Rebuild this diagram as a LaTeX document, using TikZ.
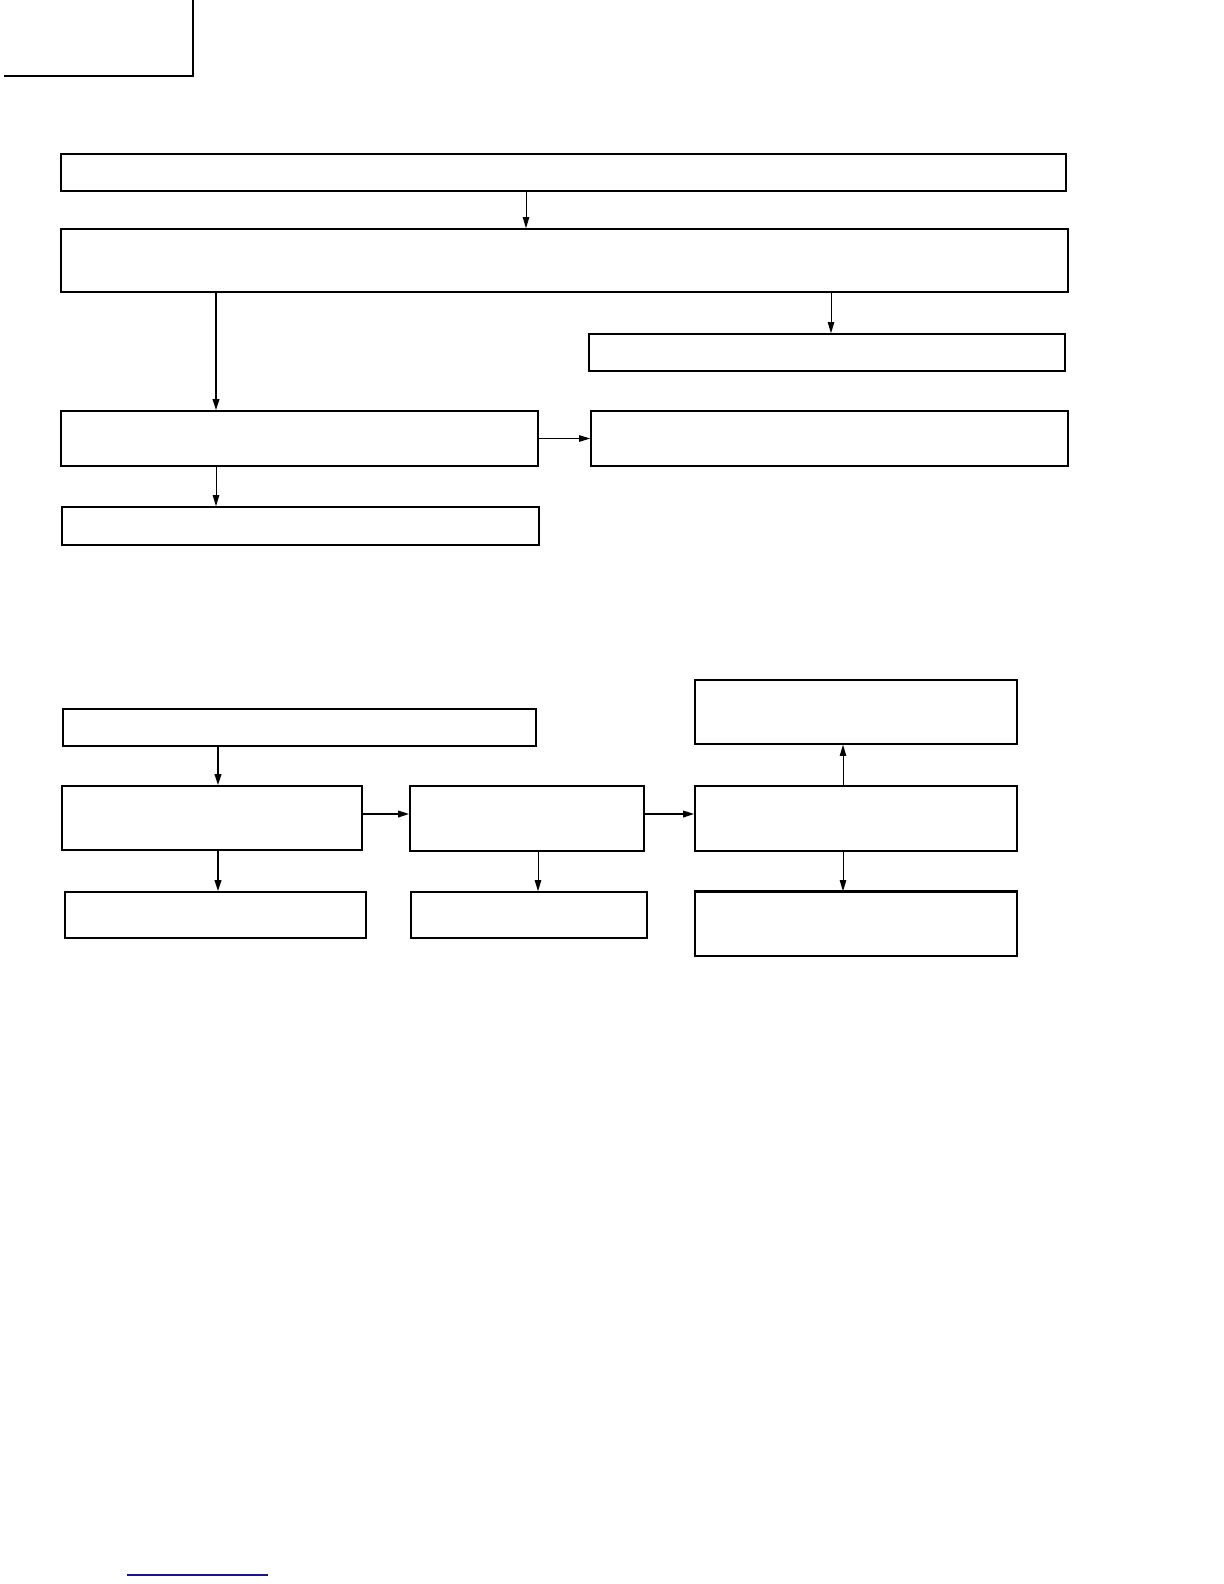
\documentclass[tikz,border=0pt]{standalone}
\usetikzlibrary{fit,arrows.meta}
\tikzset{
  box/.style={draw, inner sep=0pt, line width=0.8pt},
  heavybox/.style={box, line width=1.3pt},
  arr/.style={-{Triangle[length=5.5pt,width=3.2pt]}, line width=0.5pt},
  heavyarr/.style={arr, line width=1pt},
}
\definecolor{linkblue}{RGB}{20,20,140}
\begin{document}
\begin{tikzpicture}[x=0.5pt,y=-0.5pt]
  \useasboundingbox (0,0) rectangle (1224,1584);
  % corner mark
  \draw[line width=1pt] (193,0) -- (193,76) -- (4,76);
  % upper chart
  \node[heavybox, fit={(61,154) (1066,191)}] (top) {};
  \node[box, fit={(61,229) (1068,292)}] (main) {};
  \node[box, fit={(589,334) (1065,371)}] (right) {};
  \node[box, fit={(61,411) (538,466)}] (left) {};
  \node[box, fit={(591,411) (1068,466)}] (side) {};
  \node[box, fit={(62,507) (539,545)}] (low) {};
  \coordinate (c1) at (526,0);
  \coordinate (c2) at (831,0);
  \coordinate (c3) at (216,0);
  \draw[arr] (top.south -| c1) -- (main.north -| c1);
  \draw[arr] (main.south -| c2) -- (right.north -| c2);
  \draw[heavyarr] (main.south -| c3) -- (left.north -| c3);
  \draw[arr] (left) -- (side);
  \draw[arr] (left.south -| c3) -- (low.north -| c3);
  % lower chart
  \node[box, fit={(63,709) (536,746)}] (start) {};
  \node[box, fit={(62,786) (362,850)}] (stepa) {};
  \node[box, fit={(410,786) (644,851)}] (stepb) {};
  \node[box, fit={(695,786) (1017,851)}] (stepc) {};
  \node[box, fit={(695,680) (1017,744)}] (upper) {};
  \node[box, fit={(65,892) (366,938)}] (outa) {};
  \node[box, fit={(411,892) (647,938)}] (outb) {};
  \node[box, fit={(695,892) (1017,956)}] (outc) {};
  \draw[line width=1.3pt] (outc.north west) -- (outc.north east);
  \coordinate (d1) at (218,0);
  \coordinate (d2) at (538,0);
  \coordinate (d3) at (843,0);
  \coordinate (r1) at (0,814);
  \draw[heavyarr] (start.south -| d1) -- (stepa.north -| d1);
  \draw[heavyarr] (stepa.east |- r1) -- (stepb.west |- r1);
  \draw[heavyarr] (stepb.east |- r1) -- (stepc.west |- r1);
  \draw[arr] (stepc.north -| d3) -- (upper.south -| d3);
  \draw[heavyarr] (stepa.south -| d1) -- (outa.north -| d1);
  \draw[arr] (stepb.south -| d2) -- (outb.north -| d2);
  \draw[arr] (stepc.south -| d3) -- (outc.north -| d3);
  % footer rule
  \draw[linkblue, line width=0.8pt] (127,1575) -- (268,1575);
\end{tikzpicture}
\end{document}
